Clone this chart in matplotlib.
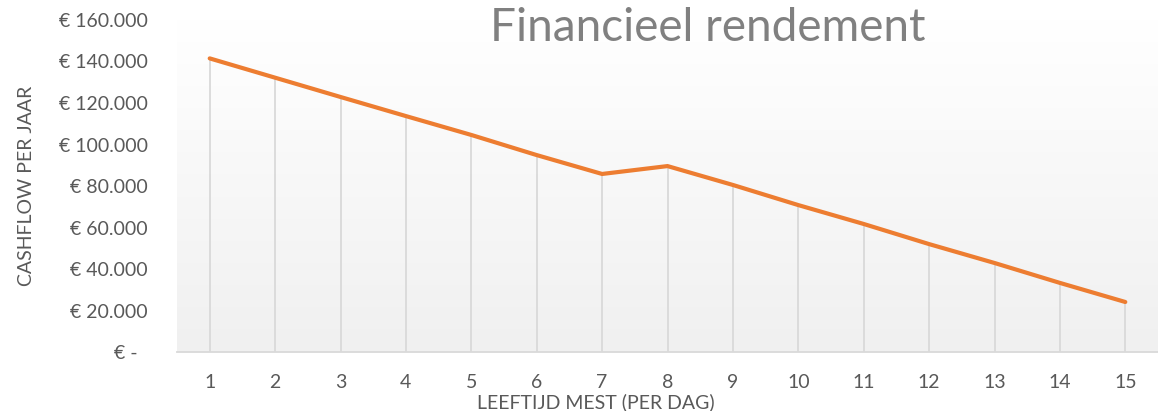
import matplotlib
matplotlib.use("Agg")
import matplotlib.pyplot as plt
import numpy as np

plt.rcParams['font.family'] = ['Lato', 'DejaVu Sans']

# Data
categories = list(range(1, 16))
cashflow = [141500, 132200, 122900, 113700, 104600, 94900, 85800, 89600,
            80500, 70800, 61700, 52000, 42900, 33300, 24100]
y_ticks = [0, 20000, 40000, 60000, 80000, 100000, 120000, 140000, 160000]
y_tick_labels = ["€ -  ", "€ 20.000", "€ 40.000", "€ 60.000", "€ 80.000",
                 "€ 100.000", "€ 120.000", "€ 140.000", "€ 160.000"]
title = "Financieel rendement"
x_label = "LEEFTIJD MEST (PER DAG)"
y_label = "CASHFLOW PER JAAR"

W, H = 1158, 411
fig = plt.figure(figsize=(W / 100, H / 100), dpi=100)
ax = fig.add_axes([177 / W, (H - 352) / H, 1 - 177 / W, (352 - 20) / H])

# gradient background
grad = np.linspace(0, 1, 256).reshape(-1, 1)
top = np.array([1.0, 1.0, 1.0])
bot = np.array([0xf0, 0xf0, 0xf0]) / 255
img = top[None, None, :] * (1 - grad[:, :, None]) + bot[None, None, :] * grad[:, :, None]
ax.imshow(img, extent=[0, 1, 0, 1], transform=ax.transAxes, aspect='auto', zorder=0)

ax.vlines(categories, 0, cashflow, color='#d9d9d9', lw=1.3, zorder=1)
ax.plot(categories, cashflow, color='#ED7D31', lw=3.0, zorder=3,
        solid_capstyle='round', solid_joinstyle='miter')

ax.set_xlim(0.5, 15.5)
ax.set_ylim(0, 160000)
ax.set_xticks(categories)
ax.set_xticklabels([str(c) for c in categories])
ax.set_yticks(y_ticks)
ax.set_yticklabels(y_tick_labels)

for s in ['top', 'right', 'left']:
    ax.spines[s].set_visible(False)
ax.spines['bottom'].set_color('#d9d9d9')
ax.spines['bottom'].set_linewidth(1.3)
ax.tick_params(axis='both', length=0, colors='#595959', labelsize=14)
ax.tick_params(axis='y', pad=21)
ax.tick_params(axis='x', pad=16)

fig.text(596 / W, 1 - 402 / H, x_label, ha='center', va='center',
         color='#595959', fontsize=14)
fig.text(27 / W, 1 - 186 / H, y_label, ha='center', va='center',
         rotation=90, color='#595959', fontsize=14)
fig.text(708 / W, 1 - 28 / H, title, ha='center', va='center',
         color='#808080', fontsize=33)

fig.savefig("out.png", dpi=100)
